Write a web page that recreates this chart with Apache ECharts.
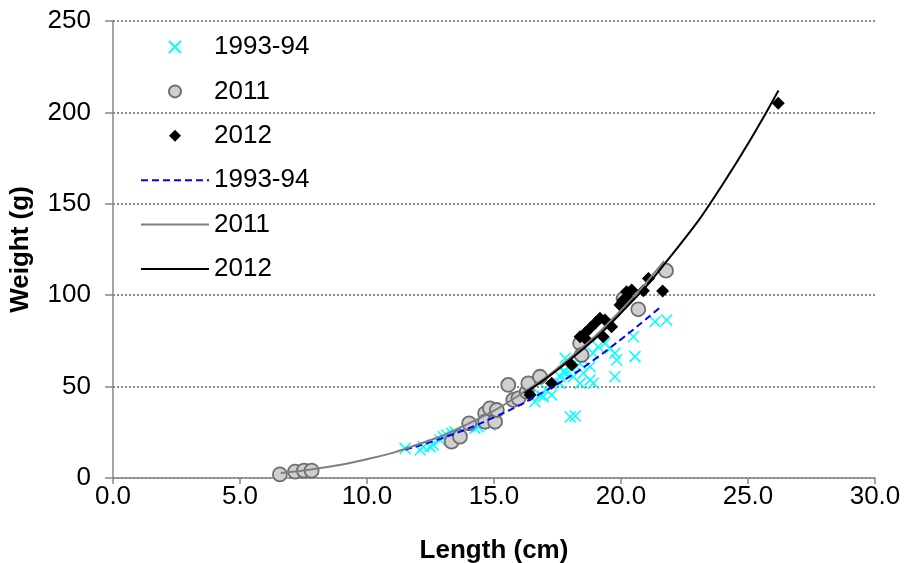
<!DOCTYPE html>
<html>
<head>
<meta charset="utf-8">
<script src="https://cdn.jsdelivr.net/npm/echarts@6/dist/echarts.min.js"></script>
<style>
  html, body { margin: 0; padding: 0; background: #fff; }
  #main { width: 906px; height: 563px; }
</style>
</head>
<body>
<div id="main"></div>
<script>
// observed points, [length cm, weight g]
var obs9394 = [
  [11.5, 16.2], [12.09, 15.3], [12.22, 17.1], [12.48, 17.1], [12.61, 18.1], [12.87, 20.8],
  [13.0, 22.6], [13.14, 23.5], [13.33, 24.4], [13.46, 25.3], [14.25, 27.2], [14.38, 28.1],
  [14.84, 29.0], [14.97, 29.9], [16.61, 41.7], [16.81, 45.4], [16.94, 44.5], [17.07, 48.1],
  [17.27, 45.4], [17.6, 51.8], [17.6, 55.4], [17.73, 58.2], [17.8, 65.5], [17.86, 57.3],
  [17.99, 60.9], [18.0, 33.4], [18.12, 55.4], [18.2, 33.9], [18.39, 62.7], [18.39, 51.8],
  [18.52, 57.3], [18.78, 60.9], [18.78, 53.6], [18.9, 68.2], [18.91, 51.8], [19.1, 71.8],
  [19.37, 73.7], [19.57, 70.9], [19.76, 68.2], [19.76, 55.4], [19.83, 64.6], [20.49, 77.3],
  [20.55, 66.4], [21.34, 85.5], [21.8, 86.4]
];
var obs2011 = [
  [6.57, 2.0], [7.17, 3.5], [7.52, 4.0], [7.82, 4.0], [13.33, 19.9], [13.66, 22.6],
  [14.02, 29.9], [14.65, 35.4], [14.65, 30.8], [14.84, 38.1], [15.04, 30.8], [15.11, 37.2],
  [15.56, 50.9], [15.76, 42.7], [15.96, 43.6], [16.29, 47.2], [16.35, 51.8], [16.81, 55.4],
  [18.39, 73.7], [18.45, 67.3], [20.1, 98.0], [20.68, 92.3], [21.77, 113.4]
];
var obs2012 = [
  [16.42, 45.4], [17.27, 51.8], [18.06, 61.8], [18.39, 77.3], [18.58, 79.2], [18.65, 75.5],
  [18.78, 81.9], [18.98, 84.6], [19.17, 87.4], [19.30, 77.3], [19.37, 86.4], [19.63, 82.8],
  [19.96, 94.6], [20.09, 97.4], [20.22, 101.9], [20.29, 98.3], [20.42, 102.8], [20.88, 102.5],
  [21.08, 109.2], [21.64, 102.3], [26.19, 205.0]
];
// trend lines
var fit9394 = [[11.5, 15.5], [13, 22.0], [15, 33.2], [17, 47.5], [19, 65.3], [21.6, 94.1]];
var fit2011 = [[6.6, 2.8], [8, 5.1], [10, 10.3], [12, 18.3], [14, 29.8], [16, 45.4], [18, 65.8], [20, 91.8], [21.7, 118.7]];
var fit2012 = [[16.2, 46.4], [18, 64.7], [20, 90.3], [22, 122], [24, 160.6], [26.2, 212]];

var xTicks = [0, 5, 10, 15, 20, 25, 30];
var yTicks = [0, 50, 100, 150, 200, 250];

var font = 'Liberation Sans, Arial, sans-serif';
var crossPath = 'path://M0,0L10,10M0,10L10,0';
var diamondPath = 'path://M5,0L10,5L5,10L0,5Z';

var myChart = echarts.init(document.getElementById('main'));

var option = {
  animation: false,
  grid: { left: 113, right: 31, top: 21, bottom: 85, outerBoundsMode: 'none' },
  legend: {
    orient: 'vertical',
    left: 140,
    top: 34,
    padding: 0,
    itemWidth: 68,
    itemHeight: 12,
    itemGap: 18.4,
    itemTextGap: 5,
    textStyle: { fontFamily: font, fontSize: 26, color: '#000' },
    formatter: function (name) { return name.replace('fit ', ''); },
    data: ['1993-94', '2011', '2012', 'fit 1993-94', 'fit 2011', 'fit 2012']
  },
  xAxis: {
    type: 'value',
    min: xTicks[0],
    max: xTicks[xTicks.length - 1],
    interval: 5,
    name: 'Length (cm)',
    nameLocation: 'middle',
    nameGap: 60,
    nameTextStyle: { fontFamily: font, fontSize: 26, fontWeight: 'bold', color: '#000' },
    axisLine: { lineStyle: { color: '#868686', width: 1.5 } },
    axisTick: { length: 6, lineStyle: { color: '#868686', width: 1.5 } },
    axisLabel: {
      margin: 6, fontFamily: font, fontSize: 26, color: '#000',
      formatter: function (v) { return v.toFixed(1); }
    },
    splitLine: { show: false }
  },
  yAxis: {
    type: 'value',
    min: yTicks[0],
    max: yTicks[yTicks.length - 1],
    interval: 50,
    name: 'Weight (g)',
    nameLocation: 'middle',
    nameGap: 79,
    nameTextStyle: { fontFamily: font, fontSize: 26, fontWeight: 'bold', color: '#000' },
    axisLine: { show: true, lineStyle: { color: '#868686', width: 1.5 } },
    axisTick: { show: true, length: 8, lineStyle: { color: '#868686', width: 1.5 } },
    axisLabel: { margin: 22, fontFamily: font, fontSize: 26, color: '#000' },
    splitLine: { lineStyle: { color: '#8c8c8c', type: [2, 2], width: 2 } }
  },
  series: [
    {
      name: '1993-94',
      type: 'scatter',
      symbol: crossPath,
      symbolSize: 11,
      itemStyle: { color: '#00ffff', borderColor: '#00ffff', borderWidth: 1.5, opacity: 1 },
      data: obs9394
    },
    {
      name: '2011',
      type: 'scatter',
      symbol: 'circle',
      symbolSize: 14,
      itemStyle: { color: '#cfcfcf', borderColor: '#6e6e6e', borderWidth: 1.8, opacity: 1 },
      data: obs2011
    },
    {
      name: '2012',
      type: 'scatter',
      symbol: diamondPath,
      symbolSize: 13,
      itemStyle: { color: '#000', opacity: 1 },
      data: obs2012
    },
    {
      name: 'fit 1993-94',
      type: 'line',
      smooth: true,
      symbol: 'circle',
      showSymbol: false,
      lineStyle: { color: '#0000ff', width: 2, type: [7, 4] },
      itemStyle: { color: 'rgba(0,0,0,0)', borderWidth: 0 },
      data: fit9394
    },
    {
      name: 'fit 2011',
      type: 'line',
      smooth: true,
      symbol: 'circle',
      showSymbol: false,
      lineStyle: { color: '#7f7f7f', width: 2 },
      itemStyle: { color: 'rgba(0,0,0,0)', borderWidth: 0 },
      data: fit2011
    },
    {
      name: 'fit 2012',
      type: 'line',
      smooth: true,
      symbol: 'circle',
      showSymbol: false,
      lineStyle: { color: '#000', width: 2 },
      itemStyle: { color: 'rgba(0,0,0,0)', borderWidth: 0 },
      data: fit2012
    }
  ]
};

myChart.setOption(option);
</script>
</body>
</html>
